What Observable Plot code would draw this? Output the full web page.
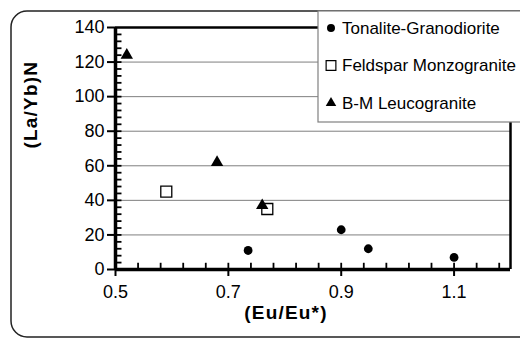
<!DOCTYPE html>
<html>
<head>
<meta charset="utf-8">
<script src="https://cdn.jsdelivr.net/npm/d3@7"></script>
<script src="https://cdn.jsdelivr.net/npm/@observablehq/plot@0.6"></script>
<style>
  html, body { margin: 0; padding: 0; background: #fff; }
  #chart { width: 520px; height: 339px; overflow: hidden; }
</style>
</head>
<body>
<div id="chart"></div>
<script>
// ---- data ----
const seriesNames = ["Tonalite-Granodiorite", "Feldspar Monzogranite", "B-M Leucogranite"];
const tonaliteEu = [0.735, 0.90, 0.948, 1.10];
const tonaliteLaYb = [11, 23, 12, 7];
const feldsparEu = [0.59, 0.769];
const feldsparLaYb = [45, 35];
const leucoEu = [0.52, 0.68, 0.76];
const leucoLaYb = [124, 62, 37];
const xTicks = [0.5, 0.7, 0.9, 1.1];
const yTicks = [0, 20, 40, 60, 80, 100, 120, 140];
const xTitle = "(Eu/Eu*)";
const yTitle = "(La/Yb)N";

const zip = (xs, ys) => xs.map((x, i) => ({x, y: ys[i]}));
const tonalite = zip(tonaliteEu, tonaliteLaYb);
const feldspar = zip(feldsparEu, feldsparLaYb);
const leuco = zip(leucoEu, leucoLaYb);

const xMinor = d3.range(1, 18).map(i => +(0.5 + i * 0.04).toFixed(2));
const yMinor = d3.range(1, 35).map(i => i * 4);
const gridVals = yTicks.filter(v => v > 0 && v < 140);

const font = "Liberation Sans, Arial, sans-serif";

const plot = Plot.plot({
  width: 520,
  height: 339,
  marginLeft: 115,
  marginRight: 10,
  marginTop: 27,
  marginBottom: 70,
  style: {fontFamily: font, background: "transparent"},
  x: {domain: [0.5, 1.2]},
  y: {domain: [0, 140]},
  marks: [
    Plot.gridY(gridVals, {stroke: "#7f7f7f", strokeOpacity: 1, strokeWidth: 1}),
    // minor ticks (inward short rules)
    Plot.ruleX(xMinor, {x: d => d, y1: 0, y2: 3.6, stroke: "#000", strokeWidth: 1.8}),
    Plot.ruleY(yMinor, {y: d => d, x1: 0.5, x2: 0.5115, stroke: "#000", strokeWidth: 1.8}),
    // major ticks (outward)
    Plot.axisX({ticks: xTicks, tickSize: 7, tickPadding: 9, tickFormat: d3.format(".1f"), label: null, fontSize: 18, stroke: "#000", strokeWidth: 2, fill: "#000"}),
    Plot.axisY({ticks: yTicks, tickSize: 8, tickPadding: 3, tickFormat: d3.format("d"), label: null, fontSize: 18, stroke: "#000", strokeWidth: 2, fill: "#000"}),
    // frame
    Plot.ruleY([140], {stroke: "#000", strokeWidth: 2.5}),
    Plot.ruleX([1.2], {stroke: "#000", strokeWidth: 2.5}),
    Plot.ruleY([0], {stroke: "#000", strokeWidth: 3.5}),
    Plot.ruleX([0.5], {stroke: "#000", strokeWidth: 3.5}),
    // data
    Plot.dot(tonalite, {x: "x", y: "y", r: 4.4, fill: "#000", stroke: "none", symbol: "circle"}),
    Plot.dot(feldspar, {x: "x", y: "y", r: 6.2, fill: "#fff", stroke: "#000", strokeWidth: 1.3, symbol: "square"}),
    Plot.dot(leuco, {x: "x", y: "y", r: 4.6, fill: "#000", stroke: "none", symbol: "triangle"}),
    // axis titles
    Plot.text([xTitle], {frameAnchor: "bottom", dx: -27, dy: 49, fontSize: 19, fontWeight: "bold", fill: "#000"}),
    Plot.text([yTitle], {frameAnchor: "left", dx: -85, rotate: -90, fontSize: 19, fontWeight: "bold", fill: "#000"})
  ]
});

const svg = d3.select(plot);

// stretch the bold titles a bit
svg.selectAll("text").filter(function() { return this.textContent === xTitle || this.textContent === yTitle; })
  .style("letter-spacing", "1.2px");

// outer rounded chart frame (behind everything)
svg.insert("rect", ":first-child")
  .attr("x", 11).attr("y", 11).attr("width", 540).attr("height", 326)
  .attr("rx", 16).attr("ry", 16)
  .attr("fill", "#fff").attr("stroke", "#222").attr("stroke-width", 1.5);

// legend box
const lg = svg.append("g");
lg.append("rect")
  .attr("x", 318).attr("y", 11).attr("width", 215).attr("height", 111)
  .attr("fill", "#fff").attr("stroke", "#808080").attr("stroke-width", 1.2);
const symDefs = [
  {type: d3.symbolCircle, size: 50, fill: "#000", stroke: "none"},
  {type: d3.symbolSquare, size: 95, fill: "#fff", stroke: "#000"},
  {type: d3.symbolTriangle, size: 48, fill: "#000", stroke: "none"}
];
seriesNames.forEach((name, i) => {
  const cy = 28 + i * 37.5;
  lg.append("path")
    .attr("transform", `translate(331,${cy})`)
    .attr("d", d3.symbol(symDefs[i].type, symDefs[i].size)())
    .attr("fill", symDefs[i].fill).attr("stroke", symDefs[i].stroke).attr("stroke-width", 1.2);
  lg.append("text")
    .attr("x", 342).attr("y", cy).attr("dy", "0.35em")
    .attr("text-anchor", "start")
    .attr("font-family", font).attr("font-size", 17).attr("fill", "#000")
    .text(name);
});

document.getElementById("chart").appendChild(plot);
</script>
</body>
</html>
